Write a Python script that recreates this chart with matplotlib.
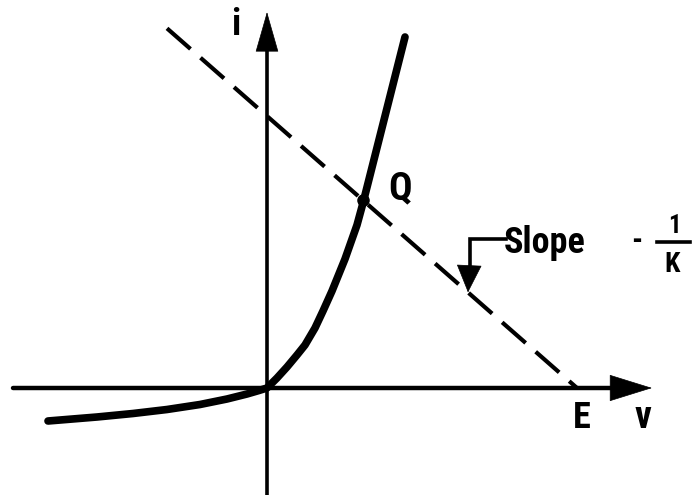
import matplotlib
matplotlib.use("Agg")
import matplotlib.pyplot as plt
from matplotlib import font_manager

# Diode characteristic (v, i) in arbitrary units
diode_v = [-2.19, -1.70, -1.34, -1.00, -0.67, -0.40, -0.20, -0.08, 0.0,
           0.10, 0.20, 0.30, 0.38, 0.48, 0.56, 0.65, 0.78, 0.90, 0.96, 1.17, 1.38]
diode_i = [-0.33, -0.29, -0.255, -0.215, -0.165, -0.11, -0.06, -0.025, 0.0,
           0.10, 0.21, 0.33, 0.43, 0.60, 0.77, 0.97, 1.29, 1.63, 1.85, 2.68, 3.51]

# Load line: i = (E - v) / K
E_V = 3.10
K = 1.14
load_v = [-1.00, E_V]
load_i = [(E_V - v) / K for v in load_v]

# Operating point
Q_V = 0.955
Q_I = (E_V - Q_V) / K

# Axis extents
V_AXIS = (-2.54, 3.85)
I_AXIS = (-1.07, 3.76)

# Point on the load line marked by the slope label
SLOPE_V = 2.01

avail = {f.name for f in font_manager.fontManager.ttflist}
fam = [f for f in ["Liberation Sans Narrow", "Roboto Condensed", "DejaVu Sans Condensed",
                   "Liberation Sans", "DejaVu Sans"] if f in avail]

fig = plt.figure(figsize=(6.92, 4.99), dpi=100)
ax = fig.add_axes([0, 0, 1, 1])
ax.set_xlim(-2.67, 4.25)
ax.set_ylim(-1.11, 3.88)
ax.axis("off")

# coordinate axes with arrow heads
ax.plot([V_AXIS[0], V_AXIS[1] - 0.2], [0, 0], color="black", lw=3.2, solid_capstyle="round")
ax.plot([0, 0], [I_AXIS[0], I_AXIS[1] - 0.2], color="black", lw=2.6, solid_capstyle="butt")
ax.annotate("", xy=(V_AXIS[1], 0), xytext=(V_AXIS[1] - 0.45, 0),
            arrowprops=dict(arrowstyle="-|>,head_length=0.45,head_width=0.14",
                            mutation_scale=65, color="black", lw=0.5, shrinkA=0, shrinkB=0))
ax.annotate("", xy=(0, I_AXIS[1]), xytext=(0, I_AXIS[1] - 0.45),
            arrowprops=dict(arrowstyle="-|>,head_length=0.42,head_width=0.12",
                            mutation_scale=65, color="black", lw=0.5, shrinkA=0, shrinkB=0))

# load line
ax.plot(load_v, load_i, color="black", lw=3.0, linestyle=(0, (7.5, 3.2)), dash_capstyle="butt")

# diode curve
ax.plot(diode_v, diode_i, color="black", lw=5.5, solid_capstyle="round", solid_joinstyle="round")

# operating point
ax.plot([Q_V], [Q_I], "o", color="black", ms=8)

txt = dict(family=fam, fontweight="bold", fontstretch="condensed", color="black")
ax.text(1.33, 1.99, "Q", fontsize=28, ha="center", va="center", **txt)
ax.text(3.15, -0.30, "E", fontsize=26, ha="center", va="center", **txt)
ax.text(3.76, -0.29, "v", fontsize=27, ha="center", va="center", **txt)
ax.text(-0.31, 3.63, "i", fontsize=26, ha="center", va="center", **txt)

# slope annotation with leader
slope_i = (E_V - SLOPE_V) / K
ax.plot([2.39, 2.03, 2.03], [1.49, 1.49, slope_i + 0.18], color="black", lw=2.6,
        solid_joinstyle="miter")
ax.annotate("", xy=(SLOPE_V, slope_i), xytext=(SLOPE_V + 0.01, slope_i + 0.22),
            arrowprops=dict(arrowstyle="-|>,head_length=0.55,head_width=0.25",
                            mutation_scale=34, color="black", lw=0.5, shrinkA=0, shrinkB=0))
ax.text(2.37, 1.45, "Slope", fontsize=26, ha="left", va="center", **txt)
ax.text(3.70, 1.47, "-", fontsize=22, ha="center", va="center", **txt)
ax.text(4.07, 1.62, "1", fontsize=18, ha="center", va="center", **txt)
ax.plot([3.90, 4.23], [1.46, 1.46], color="black", lw=2.6)
ax.text(4.05, 1.24, "K", fontsize=20, ha="center", va="center", **txt)

fig.savefig("out.png", dpi=100, facecolor="white")
